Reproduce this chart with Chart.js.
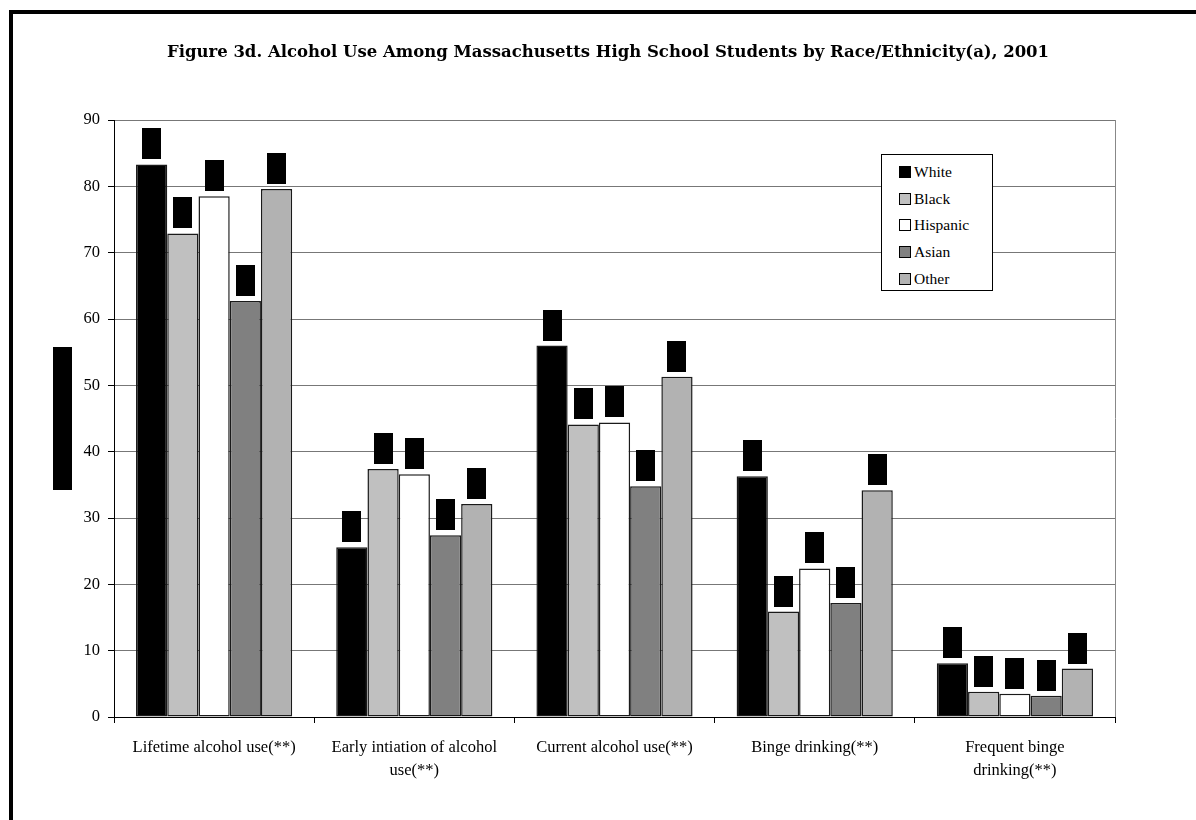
<!DOCTYPE html>
<html>
<head>
<meta charset="utf-8">
<script src="https://cdn.jsdelivr.net/npm/chart.js@4/dist/chart.umd.min.js"></script>
<style>
  html, body { margin: 0; padding: 0; background: #fff; }
  #wrap { position: relative; width: 1196px; height: 820px; overflow: hidden; }
  #frame { position: absolute; left: 9px; top: 10px; width: 1300px; height: 900px;
    border-left: 4px solid #000; border-top: 4px solid #000; pointer-events: none; }
  #legend { position: absolute; left: 881px; top: 154px; width: 112px; height: 137px;
    border: 1px solid #000; background: #fff; box-sizing: border-box;
    font: 15.5px "Liberation Serif", serif; color: #000; padding-top: 4px; }
  .legend-item { display: flex; align-items: center; height: 26.6px; padding-left: 17px; }
  .legend-dot { width: 10px; height: 10px; border: 1px solid #000; margin-right: 3px; }
</style>
</head>
<body>
<div id="wrap">
  <canvas id="c" width="1196" height="820"></canvas>
  <div id="legend"></div>
  <div id="frame"></div>
</div>
<script>
const chartTitle = 'Figure 3d. Alcohol Use Among Massachusetts High School Students by Race/Ethnicity(a), 2001';
const categories = [
  'Lifetime alcohol use(**)',
  ['Early intiation of alcohol', 'use(**)'],
  'Current alcohol use(**)',
  'Binge drinking(**)',
  ['Frequent binge', 'drinking(**)'],
];
const seriesNames = ['White', 'Black', 'Hispanic', 'Asian', 'Other'];
const seriesColors = ['#000000', '#c0c0c0', '#ffffff', '#808080', '#b2b2b2'];
const white    = [83.3, 25.6, 56.0, 36.3, 8.1];
const black    = [72.9, 37.4, 44.1, 15.9, 3.8];
const hispanic = [78.5, 36.6, 44.4, 22.4, 3.5];
const asian    = [62.7, 27.4, 34.8, 17.2, 3.2];
const other    = [79.6, 32.1, 51.3, 34.2, 7.3];
const yTicks   = [0, 10, 20, 30, 40, 50, 60, 70, 80, 90];

const seriesValues = [white, black, hispanic, asian, other];

// title sits a bit right of centre in the original, so draw it by hand
const titlePlugin = {
  id: 'figTitle',
  afterDraw(chart) {
    const ctx = chart.ctx;
    ctx.save();
    ctx.fillStyle = '#000';
    ctx.font = 'bold 16.5px "DejaVu Serif", serif';
    ctx.textAlign = 'center';
    ctx.textBaseline = 'middle';
    ctx.fillText(chartTitle, 608, 53);
    ctx.restore();
  }
};

// black label boxes above each bar + redacted axis title + plot border
const boxesPlugin = {
  id: 'boxes',
  afterDatasetsDraw(chart) {
    const ctx = chart.ctx;
    const area = chart.chartArea;
    ctx.save();
    ctx.strokeStyle = '#888';
    ctx.lineWidth = 1;
    ctx.beginPath();
    ctx.moveTo(area.right + 0.5, area.top);
    ctx.lineTo(area.right + 0.5, area.bottom);
    ctx.stroke();
    ctx.fillStyle = '#000';
    chart.data.datasets.forEach((ds, i) => {
      chart.getDatasetMeta(i).data.forEach(bar => {
        ctx.fillRect(Math.round(bar.x - 9.5), Math.round(bar.y - 36), 19, 31);
      });
    });
    const mid = (area.top + area.bottom) / 2;
    ctx.fillRect(53, Math.round(mid - 71.5), 19, 143);
    ctx.restore();
  }
};

new Chart(document.getElementById('c'), {
  type: 'bar',
  data: {
    labels: categories,
    datasets: seriesNames.map((n, i) => ({
      label: n,
      data: seriesValues[i],
      backgroundColor: seriesColors[i],
      borderColor: '#1a1a1a',
      borderWidth: 1.5,
      borderSkipped: false,
      categoryPercentage: 0.78,
      barPercentage: 1.0,
    })),
  },
  options: {
    responsive: false,
    animation: false,
    layout: { padding: { left: 14, right: 81, top: 120, bottom: 0 } },
    plugins: {
      legend: { display: false },
      tooltip: { enabled: false },
      title: { display: false },
    },
    scales: {
      x: {
        grid: { offset: true, drawOnChartArea: false, drawTicks: true, tickLength: 6, color: '#000' },
        border: { color: '#000', width: 1 },
        ticks: { color: '#000', font: { family: '"Liberation Serif", serif', size: 16.5, lineHeight: 1.4 }, padding: 13, maxRotation: 0, autoSkip: false },
        afterFit(scale) { scale.height = 103; },
      },
      y: {
        min: 0, max: 90,
        afterBuildTicks(scale) { scale.ticks = yTicks.map(v => ({ value: v })); },
        grid: { color: '#777', tickColor: '#000', tickLength: 6 },
        border: { color: '#000', width: 1 },
        ticks: { color: '#000', font: { family: '"Liberation Serif", serif', size: 16.5 }, padding: 8 },
        afterFit(scale) { scale.width = 100; },
      },
    },
  },
  plugins: [boxesPlugin, titlePlugin],
});

document.getElementById('legend').innerHTML = seriesNames.map((n, i) =>
  `<div class="legend-item"><span class="legend-dot" style="background:${seriesColors[i]}"></span>${n}</div>`
).join('');
</script>
</body>
</html>
